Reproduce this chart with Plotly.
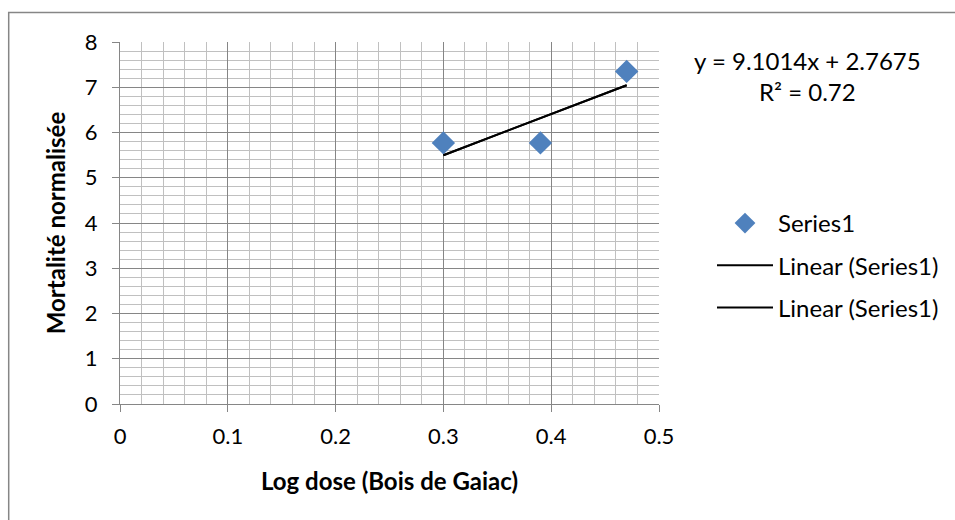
import plotly.graph_objects as go

# data
log_dose = [0.30, 0.39, 0.47]
mortalite = [5.77, 5.77, 7.35]

# trendline as printed on the chart
slope = 9.1014
intercept = 2.7675
r2 = 0.72

trend_x = [min(log_dose), max(log_dose)]
trend_y = [slope * x + intercept for x in trend_x]

FONT = "Lato, Open Sans, sans-serif"
FS = 22      # tick labels
FS_TXT = 24  # titles, legend, equation
major = "#868686"
minor = "#c0c0c0"

# plot area in pixels
L, R, T, B = 120, 660, 42, 404
W, H = R - L, B - T


def px_x(p):
    return (p - L) / W


def px_y(p):
    return (B - p) / H


fig = go.Figure()
fig.add_trace(go.Scatter(
    x=log_dose, y=mortalite, mode="markers", name="Series1",
    marker=dict(symbol="diamond", size=18, color="#4F81BD",
                line=dict(width=0)),
    legendgroup="a",
))
fig.add_trace(go.Scatter(
    x=trend_x, y=trend_y, mode="lines", name="Linear (Series1)",
    line=dict(color="black", width=2), legendgroup="b",
))
fig.add_trace(go.Scatter(
    x=trend_x, y=trend_y, mode="lines", name="Linear (Series1)",
    line=dict(color="black", width=2), legendgroup="c",
))

fig.update_xaxes(
    range=[0, 0.5], dtick=0.1, showgrid=True,
    gridcolor=major, gridwidth=1, zeroline=False,
    showline=True, linecolor=major, linewidth=1,
    ticks="outside", ticklen=7, tickcolor=major, ticklabelstandoff=6,
    minor=dict(dtick=0.02, showgrid=True, gridcolor=minor, gridwidth=1),
    tickfont=dict(size=FS, color="black"),
    title=dict(text="<b>Log dose (Bois de Gaiac)</b>",
               font=dict(size=FS_TXT, color="black"), standoff=24),
    automargin=False,
)
fig.update_yaxes(
    range=[0, 8], dtick=1, showgrid=True,
    gridcolor=major, gridwidth=1, zeroline=False,
    showline=True, linecolor=major, linewidth=1,
    ticks="outside", ticklen=7, tickcolor=major, ticklabelstandoff=10,
    minor=dict(dtick=0.2, showgrid=True, gridcolor=minor, gridwidth=1),
    tickfont=dict(size=FS, color="black"),
    title=dict(text="<b>Mortalité normalisée</b>",
               font=dict(size=FS_TXT, color="black"), standoff=12),
    automargin=False,
)

# equation label
fig.add_annotation(
    xref="paper", yref="paper", x=px_x(809), y=px_y(76),
    xanchor="center", yanchor="middle",
    text=f"y = {slope}x + {intercept}<br>R² = {r2}", showarrow=False,
    font=dict(family=FONT, size=FS_TXT, color="black"), align="center",
)

# outer chart border (only top and left edges are inside the picture)
fig.add_shape(
    type="rect", xref="paper", yref="paper",
    x0=px_x(8.5), x1=px_x(965), y0=px_y(530), y1=px_y(12.5),
    line=dict(color="#868686", width=1.5), fillcolor="rgba(0,0,0,0)",
    layer="below",
)

fig.update_layout(
    width=955, height=520,
    margin=dict(l=L, r=955 - R, t=T, b=520 - B),
    paper_bgcolor="white", plot_bgcolor="white",
    font=dict(family=FONT, size=FS, color="black"),
    legend=dict(
        x=px_x(712), y=px_y(201), xanchor="left", yanchor="top",
        font=dict(size=FS_TXT, color="black"), tracegroupgap=8,
        bgcolor="rgba(0,0,0,0)", itemwidth=56,
    ),
    showlegend=True,
)

fig.write_html("out.html", config={"displayModeBar": False},
               post_script="document.body.style.margin='0';")
